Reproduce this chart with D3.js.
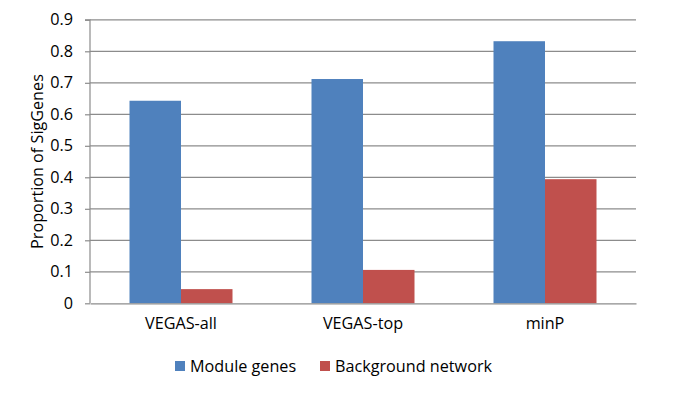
<!DOCTYPE html>
<html><head><meta charset="utf-8">
<script src="https://cdn.jsdelivr.net/npm/d3@7"></script>
<style>body{margin:0;background:#fff}svg{display:block}text{font-family:"Open Sans",sans-serif;fill:#000}</style>
</head><body>
<svg id="c" width="685" height="400"></svg>
<script>
const categories = ["VEGAS-all", "VEGAS-top", "minP"];
const seriesNames = ["Module genes", "Background network"];
const moduleGenes = [0.643, 0.712, 0.832];
const backgroundNetwork = [0.045, 0.106, 0.394];
const yTicks = [0, 0.1, 0.2, 0.3, 0.4, 0.5, 0.6, 0.7, 0.8, 0.9];
const colors = ["#4F81BD", "#C0504D"];

(function () {
const svg = d3.select("#c");
const mLeft = 90, mRight = 636, mTop = 19.8, mBottom = 303.3;
const fs = 16.2;
const x = d3.scaleBand().domain(categories).range([mLeft, mRight]).paddingInner(0).paddingOuter(0);
const x1 = d3.scaleBand().domain(seriesNames).range([0, x.bandwidth()]).paddingInner(0).paddingOuter(0.767);
const y = d3.scaleLinear().domain([0, 0.9]).range([mBottom, mTop]);

// gridlines
svg.append("g").selectAll("line").data(yTicks.filter(d => d > 0)).join("line")
  .attr("x1", mLeft).attr("x2", mRight).attr("y1", d => y(d)).attr("y2", d => y(d))
  .attr("stroke", "#8c8c8c").attr("stroke-width", 1.2);

// bars
const series = [moduleGenes, backgroundNetwork];
const g = svg.append("g");
categories.forEach((c, i) => {
  seriesNames.forEach((s, j) => {
    g.append("rect").attr("x", x(c) + x1(s)).attr("width", x1.bandwidth())
      .attr("y", y(series[j][i])).attr("height", y(0) - y(series[j][i]))
      .attr("fill", colors[j]);
  });
});

// y axis
const yAxis = d3.axisLeft(y).tickValues(yTicks).tickFormat(d => d === 0 ? "0" : d3.format(".1f")(d)).tickSize(5).tickPadding(12);
const ya = svg.append("g").attr("transform", `translate(${mLeft},0)`).call(yAxis);
ya.selectAll("path,line").attr("stroke", "#8c8c8c").attr("stroke-width", 1.2);
ya.select(".domain").attr("d", `M-5,${mTop}H0V${mBottom}`);
ya.selectAll("text").attr("font-size", fs).attr("font-family", "Open Sans").attr("fill", "#000");

// x axis
const xAxis = d3.axisBottom(x).tickSize(0).tickPadding(14);
const xa = svg.append("g").attr("transform", `translate(0,${mBottom})`).call(xAxis);
xa.select(".domain").attr("stroke", "#8c8c8c").attr("stroke-width", 1.2);
xa.selectAll("text").attr("font-size", fs).attr("font-family", "Open Sans").attr("fill", "#000");

// y title
svg.append("text").attr("transform", `translate(43,${(mTop + mBottom) / 2}) rotate(-90)`)
  .attr("text-anchor", "middle").attr("font-size", fs).text("Proportion of SigGenes");

// legend
const legendX = [175, 320];
seriesNames.forEach((s, j) => {
  svg.append("rect").attr("x", legendX[j]).attr("y", 361).attr("width", 10).attr("height", 10).attr("fill", colors[j]);
  svg.append("text").attr("x", legendX[j] + 15).attr("y", 371.5).attr("font-size", fs).text(s);
});
})();
</script>
</body></html>
